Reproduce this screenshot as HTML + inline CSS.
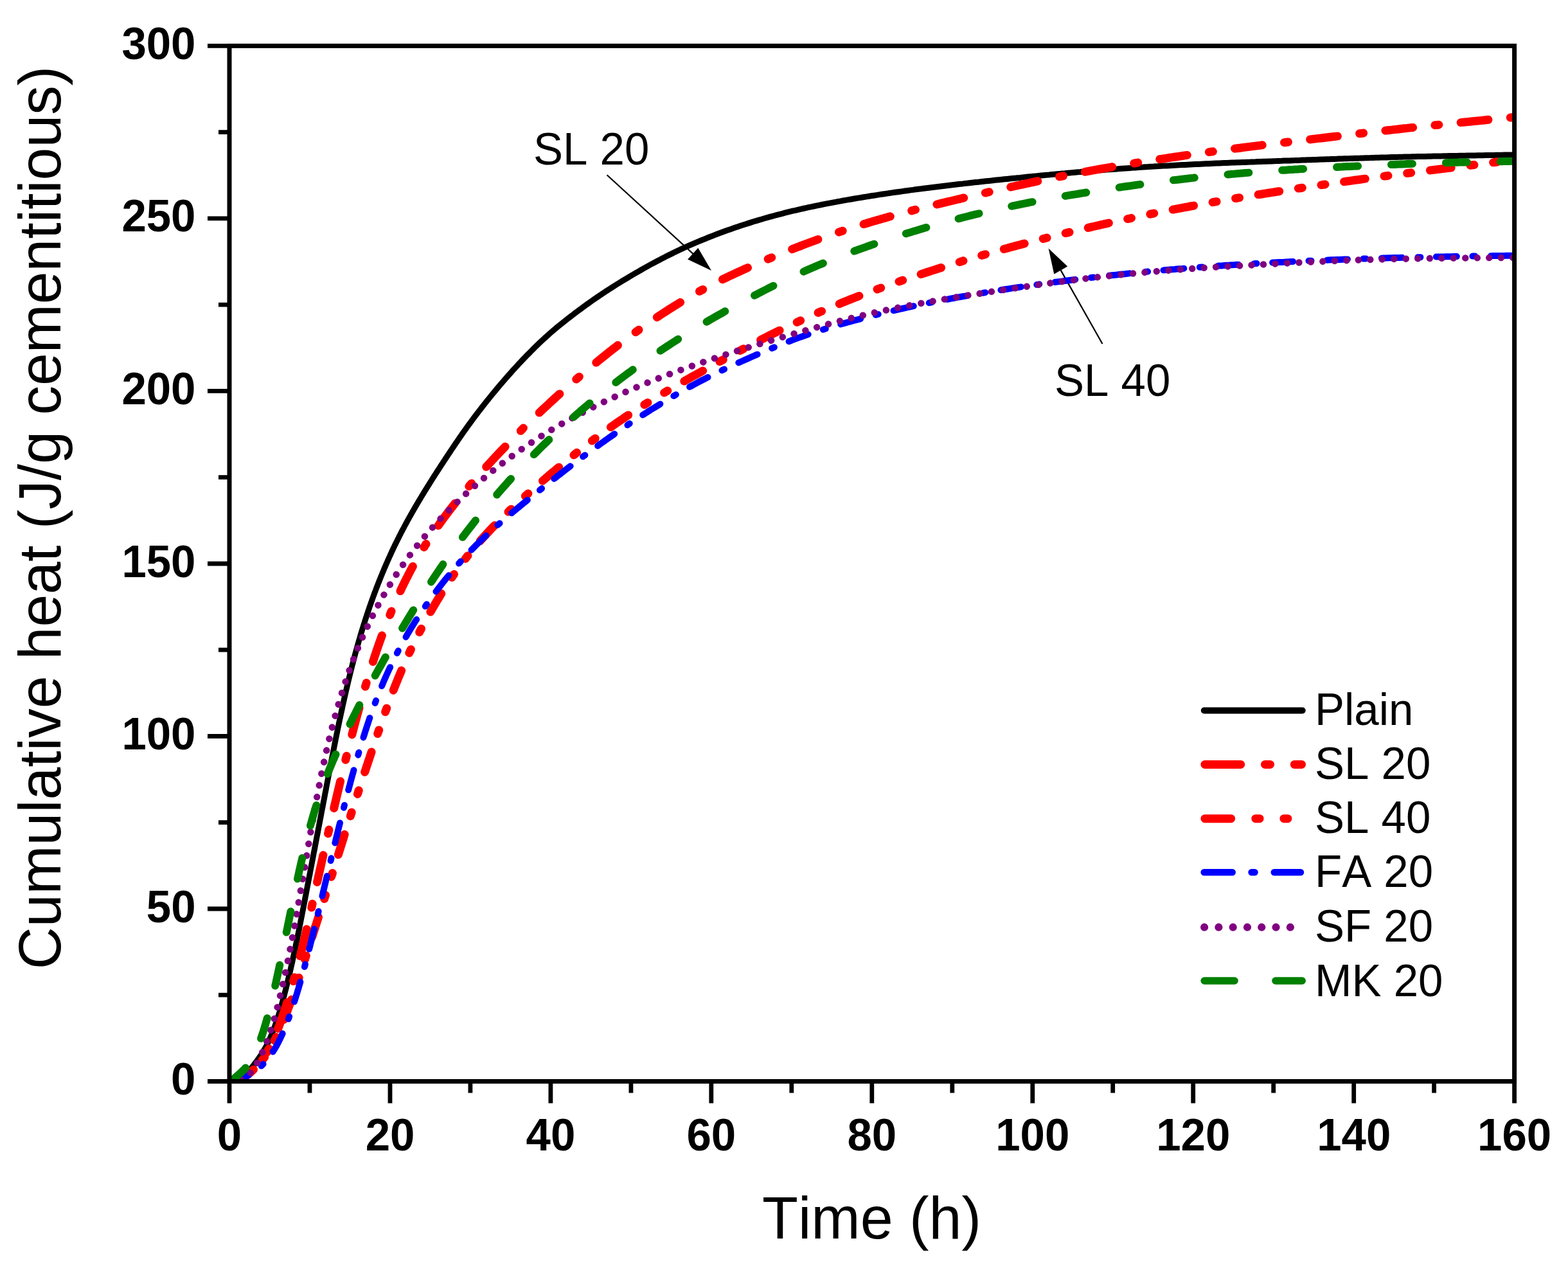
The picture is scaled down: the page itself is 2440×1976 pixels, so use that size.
<!DOCTYPE html><html><head><meta charset="utf-8"><style>html,body{margin:0;padding:0;background:#fff;}svg{display:block;}text{font-kerning:none;}</style></head><body>
<svg width="2440" height="1976" viewBox="0 0 2440 1976">
<rect width="2440" height="1976" fill="#fff"/>
<path d="M944.5,272.2L1081.2,397.4" stroke="#000" stroke-width="2.2" fill="none"/><path d="M1107.0,421.0L1070.1,403.5L1086.3,385.8Z" fill="#000"/>
<path d="M1715.5,535.0L1648.8,417.1" stroke="#000" stroke-width="2.2" fill="none"/><path d="M1631.6,386.6L1661.2,414.6L1640.3,426.5Z" fill="#000"/>
<defs><clipPath id="pc"><rect x="357.0" y="71.4" width="1999.6" height="1611.1"/></clipPath></defs>
<g fill="none" stroke-linecap="round" stroke-linejoin="round" clip-path="url(#pc)">
<path d="M357.0,1682.5L358.2,1682.4L359.5,1682.3L360.7,1682.1L362.0,1681.9L363.2,1681.7L364.5,1681.4L365.7,1681.1L367.0,1680.8L368.2,1680.4L369.5,1679.9L370.7,1679.4L372.0,1678.9L373.2,1678.2L374.5,1677.5L375.7,1676.8L377.0,1675.9L378.2,1675.0L379.5,1674.0L380.7,1673.0L382.0,1671.8L383.2,1670.6L384.5,1669.4L385.7,1668.1L387.0,1666.7L388.2,1665.3L389.5,1663.8L390.7,1662.3L392.0,1660.8L393.2,1659.2L394.5,1657.6L395.7,1656.0L397.0,1654.3L398.2,1652.7L399.5,1651.0L400.7,1649.3L402.0,1647.6L403.2,1645.8L404.5,1644.0L405.7,1642.2L407.0,1640.3L408.2,1638.3L409.5,1636.2L410.7,1634.1L412.0,1631.9L413.2,1629.7L414.5,1627.3L415.7,1624.9L417.0,1622.4L418.2,1619.8L419.5,1617.0L420.7,1614.2L422.0,1611.3L423.2,1608.3L424.5,1605.2L425.7,1601.9L427.0,1598.6L428.2,1595.1L429.5,1591.6L430.7,1587.9L432.0,1584.1L433.2,1580.2L434.5,1576.1L435.7,1572.0L437.0,1567.7L438.2,1563.4L439.5,1558.9L440.7,1554.3L442.0,1549.7L443.2,1544.9L444.5,1540.0L445.7,1535.1L447.0,1530.0L448.2,1524.9L449.5,1519.7L450.7,1514.4L452.0,1509.0L453.2,1503.5L454.5,1498.0L455.7,1492.3L457.0,1486.6L458.2,1480.8L459.5,1474.9L460.7,1469.0L462.0,1462.9L463.2,1456.8L464.5,1450.6L465.7,1444.4L467.0,1438.1L468.2,1431.8L469.5,1425.4L470.7,1419.0L472.0,1412.6L473.2,1406.1L474.5,1399.6L475.7,1393.1L477.0,1386.5L478.2,1380.0L479.5,1373.4L480.7,1366.9L482.0,1360.3L483.2,1353.7L484.5,1347.2L485.7,1340.6L487.0,1334.1L488.2,1327.5L489.5,1321.0L490.7,1314.4L492.0,1307.9L493.2,1301.3L494.5,1294.8L495.7,1288.2L497.0,1281.7L498.2,1275.1L499.5,1268.6L500.7,1262.0L502.0,1255.5L503.2,1248.9L504.5,1242.4L505.7,1235.8L507.0,1229.3L508.2,1222.7L509.5,1216.2L510.7,1209.7L512.0,1203.2L513.2,1196.7L514.5,1190.2L515.7,1183.8L517.0,1177.4L518.2,1171.0L519.5,1164.7L520.7,1158.3L522.0,1152.1L523.2,1145.9L524.5,1139.7L525.7,1133.6L527.0,1127.5L528.2,1121.6L529.5,1115.6L530.7,1109.8L532.0,1104.0L533.2,1098.2L534.5,1092.6L535.7,1087.0L537.0,1081.4L538.2,1076.0L539.5,1070.6L540.7,1065.2L542.0,1060.0L543.2,1054.8L544.5,1049.7L545.7,1044.7L547.0,1039.7L548.2,1034.8L549.5,1030.0L550.7,1025.2L552.0,1020.5L553.2,1015.9L554.5,1011.3L555.7,1006.8L557.0,1002.4L558.2,998.0L559.5,993.7L560.7,989.4L562.0,985.2L563.2,981.1L564.5,977.0L565.7,973.0L567.0,969.1L568.2,965.1L569.5,961.3L570.7,957.5L572.0,953.7L573.2,950.0L574.5,946.3L575.7,942.7L577.0,939.1L578.2,935.6L579.5,932.1L580.7,928.6L582.0,925.2L583.2,921.9L584.5,918.5L585.7,915.2L587.0,912.0L588.2,908.7L589.5,905.6L590.7,902.4L592.0,899.3L593.2,896.2L594.5,893.2L595.7,890.2L597.0,887.2L598.2,884.2L599.5,881.3L600.7,878.4L602.0,875.5L603.2,872.7L604.5,869.9L605.7,867.1L607.0,864.4L608.2,861.7L609.4,859.0L610.7,856.3L611.9,853.6L613.2,851.0L614.4,848.4L615.7,845.9L616.9,843.3L618.2,840.8L619.4,838.3L620.7,835.8L621.9,833.3L623.2,830.9L624.4,828.4L625.7,826.0L626.9,823.7L628.2,821.3L629.4,818.9L630.7,816.6L631.9,814.3L633.2,812.0L634.4,809.7L635.7,807.5L636.9,805.2L638.2,803.0L639.4,800.8L640.7,798.6L641.9,796.4L643.2,794.2L644.4,792.0L645.7,789.9L646.9,787.7L648.2,785.6L649.4,783.5L650.7,781.4L651.9,779.2L653.2,777.2L654.4,775.1L655.7,773.0L656.9,770.9L658.2,768.9L659.4,766.8L660.7,764.8L661.9,762.7L663.2,760.7L664.4,758.7L665.7,756.7L666.9,754.7L668.2,752.7L669.4,750.7L670.7,748.7L671.9,746.7L673.2,744.8L674.4,742.8L675.7,740.8L676.9,738.9L678.2,736.9L679.4,735.0L680.7,733.0L681.9,731.1L683.2,729.2L684.4,727.3L685.7,725.3L686.9,723.4L688.2,721.5L689.4,719.6L690.7,717.7L691.9,715.8L693.2,713.9L694.4,712.0L695.7,710.1L696.9,708.2L698.2,706.4L699.4,704.5L700.7,702.6L701.9,700.7L703.2,698.8L704.4,697.0L705.7,695.1L706.9,693.3L708.2,691.4L709.4,689.5L710.7,687.7L711.9,685.9L713.2,684.0L714.4,682.2L715.7,680.4L716.9,678.6L718.2,676.8L719.4,675.0L720.7,673.2L721.9,671.5L723.2,669.7L724.4,667.9L725.7,666.2L726.9,664.5L728.2,662.7L729.4,661.0L730.7,659.3L731.9,657.6L733.2,655.9L737.2,650.4L741.3,645.0L745.4,639.6L749.4,634.4L753.5,629.2L757.6,624.0L761.7,619.0L765.7,614.0L769.8,609.1L773.9,604.2L777.9,599.4L782.0,594.6L786.1,589.9L790.1,585.3L794.2,580.7L798.3,576.1L802.3,571.7L806.4,567.2L810.5,562.9L814.5,558.6L818.6,554.3L822.7,550.2L826.8,546.1L830.8,542.0L834.9,538.0L839.0,534.1L843.0,530.3L847.1,526.5L851.2,522.9L855.2,519.2L859.3,515.7L863.4,512.2L867.4,508.8L871.5,505.5L875.6,502.2L879.6,499.0L883.7,495.8L887.8,492.6L891.9,489.5L895.9,486.4L900.0,483.4L904.1,480.4L908.1,477.4L912.2,474.4L916.3,471.5L920.3,468.6L924.4,465.8L928.5,463.0L932.5,460.2L936.6,457.5L940.7,454.8L944.7,452.1L948.8,449.5L952.9,446.9L957.0,444.3L961.0,441.8L965.1,439.2L969.2,436.7L973.2,434.3L977.3,431.8L981.4,429.4L985.4,427.0L989.5,424.6L993.6,422.3L997.6,420.0L1001.7,417.7L1005.8,415.4L1009.8,413.1L1013.9,410.9L1018.0,408.7L1022.1,406.5L1026.1,404.4L1030.2,402.3L1034.3,400.2L1038.3,398.1L1042.4,396.1L1046.5,394.1L1050.5,392.1L1054.6,390.2L1058.7,388.2L1062.7,386.4L1066.8,384.5L1070.9,382.7L1074.9,380.9L1079.0,379.1L1083.1,377.4L1087.2,375.7L1091.2,374.0L1095.3,372.3L1099.4,370.7L1103.4,369.0L1107.5,367.5L1111.6,365.9L1115.6,364.3L1119.7,362.8L1123.8,361.3L1127.8,359.8L1131.9,358.3L1136.0,356.9L1140.0,355.5L1144.1,354.1L1148.2,352.7L1152.3,351.3L1156.3,350.0L1160.4,348.7L1164.5,347.4L1168.5,346.1L1172.6,344.8L1176.7,343.6L1180.7,342.4L1184.8,341.2L1188.9,340.0L1192.9,338.8L1197.0,337.7L1201.1,336.6L1205.1,335.5L1209.2,334.4L1213.3,333.3L1217.4,332.3L1221.4,331.2L1225.5,330.2L1229.6,329.2L1233.6,328.2L1237.7,327.3L1241.8,326.3L1245.8,325.4L1249.9,324.5L1254.0,323.6L1258.0,322.7L1262.1,321.8L1266.2,321.0L1270.2,320.1L1274.3,319.3L1278.4,318.5L1282.5,317.7L1286.5,316.9L1290.6,316.1L1294.7,315.3L1298.7,314.6L1302.8,313.8L1306.9,313.1L1310.9,312.3L1315.0,311.6L1319.1,310.9L1323.1,310.2L1327.2,309.5L1331.3,308.8L1335.3,308.1L1339.4,307.5L1343.5,306.8L1347.6,306.1L1351.6,305.5L1355.7,304.8L1359.8,304.2L1363.8,303.6L1367.9,302.9L1372.0,302.3L1376.0,301.7L1380.1,301.1L1384.2,300.5L1388.2,299.9L1392.3,299.3L1396.4,298.7L1400.4,298.2L1404.5,297.6L1408.6,297.0L1412.7,296.5L1416.7,295.9L1420.8,295.4L1424.9,294.8L1428.9,294.3L1433.0,293.8L1437.1,293.2L1441.1,292.7L1445.2,292.2L1449.3,291.7L1453.3,291.2L1457.4,290.7L1461.5,290.2L1465.5,289.7L1469.6,289.2L1473.7,288.7L1477.8,288.2L1481.8,287.7L1485.9,287.3L1490.0,286.8L1494.0,286.3L1498.1,285.9L1502.2,285.4L1506.2,285.0L1510.3,284.5L1514.4,284.0L1518.4,283.6L1522.5,283.2L1526.6,282.7L1530.6,282.3L1534.7,281.8L1538.8,281.4L1542.9,281.0L1546.9,280.5L1551.0,280.1L1555.1,279.7L1559.1,279.3L1563.2,278.8L1567.3,278.4L1571.3,278.0L1575.4,277.6L1579.5,277.2L1583.5,276.8L1587.6,276.4L1591.7,275.9L1595.7,275.5L1599.8,275.1L1603.9,274.7L1608.0,274.3L1612.0,273.9L1616.1,273.5L1620.2,273.1L1624.2,272.7L1628.3,272.3L1632.4,272.0L1636.4,271.6L1640.5,271.2L1644.6,270.8L1648.6,270.4L1652.7,270.0L1656.8,269.7L1660.8,269.3L1664.9,268.9L1669.0,268.6L1673.1,268.2L1677.1,267.8L1681.2,267.5L1685.3,267.1L1689.3,266.8L1693.4,266.4L1697.5,266.1L1701.5,265.8L1705.6,265.4L1709.7,265.1L1713.7,264.8L1717.8,264.4L1721.9,264.1L1725.9,263.8L1730.0,263.5L1734.1,263.2L1738.2,262.9L1742.2,262.6L1746.3,262.3L1750.4,262.0L1754.4,261.7L1758.5,261.4L1762.6,261.1L1766.6,260.9L1770.7,260.6L1774.8,260.3L1778.8,260.1L1782.9,259.8L1787.0,259.6L1791.0,259.3L1795.1,259.1L1799.2,258.8L1803.3,258.6L1807.3,258.3L1811.4,258.1L1815.5,257.9L1819.5,257.7L1823.6,257.4L1827.7,257.2L1831.7,257.0L1835.8,256.8L1839.9,256.6L1843.9,256.4L1848.0,256.2L1852.1,256.0L1856.1,255.8L1860.2,255.6L1864.3,255.4L1868.4,255.2L1872.4,255.0L1876.5,254.8L1880.6,254.7L1884.6,254.5L1888.7,254.3L1892.8,254.1L1896.8,254.0L1900.9,253.8L1905.0,253.6L1909.0,253.5L1913.1,253.3L1917.2,253.1L1921.2,253.0L1925.3,252.8L1929.4,252.7L1933.5,252.5L1937.5,252.4L1941.6,252.2L1945.7,252.1L1949.7,251.9L1953.8,251.8L1957.9,251.6L1961.9,251.5L1966.0,251.3L1970.1,251.2L1974.1,251.0L1978.2,250.9L1982.3,250.7L1986.3,250.6L1990.4,250.4L1994.5,250.3L1998.6,250.1L2002.6,250.0L2006.7,249.9L2010.8,249.7L2014.8,249.6L2018.9,249.4L2023.0,249.3L2027.0,249.1L2031.1,249.0L2035.2,248.8L2039.2,248.7L2043.3,248.5L2047.4,248.4L2051.4,248.2L2055.5,248.1L2059.6,248.0L2063.7,247.8L2067.7,247.7L2071.8,247.5L2075.9,247.4L2079.9,247.3L2084.0,247.1L2088.1,247.0L2092.1,246.8L2096.2,246.7L2100.3,246.6L2104.3,246.4L2108.4,246.3L2112.5,246.2L2116.5,246.1L2120.6,245.9L2124.7,245.8L2128.8,245.7L2132.8,245.6L2136.9,245.4L2141.0,245.3L2145.0,245.2L2149.1,245.1L2153.2,245.0L2157.2,244.9L2161.3,244.7L2165.4,244.6L2169.4,244.5L2173.5,244.4L2177.6,244.3L2181.6,244.2L2185.7,244.1L2189.8,244.0L2193.9,243.9L2197.9,243.8L2202.0,243.7L2206.1,243.6L2210.1,243.5L2214.2,243.5L2218.3,243.4L2222.3,243.3L2226.4,243.2L2230.5,243.1L2234.5,243.0L2238.6,242.9L2242.7,242.9L2246.7,242.8L2250.8,242.7L2254.9,242.6L2259.0,242.6L2263.0,242.5L2267.1,242.4L2271.2,242.3L2275.2,242.3L2279.3,242.2L2283.4,242.1L2287.4,242.0L2291.5,242.0L2295.6,241.9L2299.6,241.8L2303.7,241.8L2307.8,241.7L2311.8,241.6L2315.9,241.6L2320.0,241.5L2324.1,241.4L2328.1,241.3L2332.2,241.3L2336.3,241.2L2340.3,241.1L2344.4,241.1L2348.5,241.0L2352.5,241.0L2356.6,240.9" stroke="#000" stroke-width="9"/>
<path d="M357.0,1682.5L358.2,1682.5L359.5,1682.5L360.7,1682.5L362.0,1682.5L363.2,1682.5L364.5,1682.3L365.7,1682.0L367.0,1681.6L368.2,1681.2L369.5,1680.8L370.7,1680.3L372.0,1679.8L373.2,1679.3L374.5,1678.7L375.7,1678.1L377.0,1677.5L378.2,1676.8L379.5,1676.0L380.7,1675.3L382.0,1674.4L383.2,1673.6L384.5,1672.7L385.7,1671.8L387.0,1670.8L388.2,1669.8L389.5,1668.7L390.7,1667.6L392.0,1666.5L393.2,1665.3L394.5,1664.1L395.7,1662.9L397.0,1661.6L398.2,1660.3L399.5,1658.9L400.7,1657.5L402.0,1656.1L403.2,1654.6L404.5,1653.1L405.7,1651.6L407.0,1649.9L408.2,1648.3L409.5,1646.5L410.7,1644.7L412.0,1642.9L413.2,1640.9L414.5,1638.9L415.7,1636.8L417.0,1634.6L418.2,1632.4L419.5,1630.0L420.7,1627.6L422.0,1625.1L423.2,1622.5L424.5,1619.9L425.7,1617.1L427.0,1614.3L428.2,1611.4L429.5,1608.5L430.7,1605.4L432.0,1602.3L433.2,1599.1L434.5,1595.8L435.7,1592.5L437.0,1589.0L438.2,1585.5L439.5,1581.9L440.7,1578.3L442.0,1574.5L443.2,1570.7L444.5,1566.9L445.7,1562.9L447.0,1558.9L448.2,1554.9L449.5,1550.8L450.7,1546.7L452.0,1542.5L453.2,1538.2L454.5,1533.9L455.7,1529.6L457.0,1525.2L458.2,1520.7L459.5,1516.2L460.7,1511.6L462.0,1507.0L463.2,1502.3L464.5,1497.6L465.7,1492.7L467.0,1487.9L468.2,1483.0L469.5,1478.0L470.7,1472.9L472.0,1467.8L473.2,1462.6L474.5,1457.4L475.7,1452.1L477.0,1446.7L478.2,1441.3L479.5,1435.9L480.7,1430.4L482.0,1424.8L483.2,1419.3L484.5,1413.7L485.7,1408.1L487.0,1402.4L488.2,1396.8L489.5,1391.2L490.7,1385.5L492.0,1379.9L493.2,1374.2L494.5,1368.6L495.7,1362.9L497.0,1357.3L498.2,1351.7L499.5,1346.1L500.7,1340.5L502.0,1334.9L503.2,1329.3L504.5,1323.8L505.7,1318.2L507.0,1312.7L508.2,1307.2L509.5,1301.7L510.7,1296.3L512.0,1290.8L513.2,1285.4L514.5,1279.9L515.7,1274.5L517.0,1269.1L518.2,1263.7L519.5,1258.4L520.7,1253.0L522.0,1247.7L523.2,1242.4L524.5,1237.1L525.7,1231.8L527.0,1226.6L528.2,1221.4L529.5,1216.2L530.7,1211.0L532.0,1205.8L533.2,1200.7L534.5,1195.6L535.7,1190.5L537.0,1185.5L538.2,1180.5L539.5,1175.5L540.7,1170.5L542.0,1165.6L543.2,1160.6L544.5,1155.8L545.7,1150.9L547.0,1146.1L548.2,1141.3L549.5,1136.5L550.7,1131.8L552.0,1127.1L553.2,1122.4L554.5,1117.8L555.7,1113.2L557.0,1108.6L558.2,1104.0L559.5,1099.5L560.7,1095.1L562.0,1090.6L563.2,1086.2L564.5,1081.9L565.7,1077.5L567.0,1073.3L568.2,1069.0L569.5,1064.8L570.7,1060.6L572.0,1056.5L573.2,1052.3L574.5,1048.3L575.7,1044.2L577.0,1040.3L578.2,1036.3L579.5,1032.4L580.7,1028.5L582.0,1024.7L583.2,1020.9L584.5,1017.1L585.7,1013.4L587.0,1009.7L588.2,1006.1L589.5,1002.5L590.7,998.9L592.0,995.4L593.2,992.0L594.5,988.5L595.7,985.1L597.0,981.8L598.2,978.4L599.5,975.2L600.7,971.9L602.0,968.7L603.2,965.5L604.5,962.4L605.7,959.3L607.0,956.2L608.2,953.2L609.4,950.2L610.7,947.2L611.9,944.3L613.2,941.4L614.4,938.5L615.7,935.6L616.9,932.8L618.2,930.0L619.4,927.3L620.7,924.5L621.9,921.8L623.2,919.2L624.4,916.5L625.7,913.9L626.9,911.3L628.2,908.7L629.4,906.2L630.7,903.7L631.9,901.2L633.2,898.7L634.4,896.3L635.7,893.9L636.9,891.5L638.2,889.1L639.4,886.7L640.7,884.4L641.9,882.1L643.2,879.8L644.4,877.6L645.7,875.3L646.9,873.1L648.2,870.9L649.4,868.7L650.7,866.6L651.9,864.4L653.2,862.3L654.4,860.2L655.7,858.1L656.9,856.1L658.2,854.0L659.4,852.0L660.7,850.0L661.9,848.0L663.2,846.0L664.4,844.0L665.7,842.1L666.9,840.1L668.2,838.2L669.4,836.3L670.7,834.4L671.9,832.5L673.2,830.6L674.4,828.8L675.7,827.0L676.9,825.1L678.2,823.3L679.4,821.5L680.7,819.7L681.9,818.0L683.2,816.2L684.4,814.4L685.7,812.7L686.9,811.0L688.2,809.2L689.4,807.5L690.7,805.8L691.9,804.1L693.2,802.5L694.4,800.8L695.7,799.1L696.9,797.5L698.2,795.8L699.4,794.2L700.7,792.6L701.9,791.0L703.2,789.4L704.4,787.7L705.7,786.2L706.9,784.6L708.2,783.0L709.4,781.4L710.7,779.8L711.9,778.3L713.2,776.7L714.4,775.2L715.7,773.7L716.9,772.1L718.2,770.6L719.4,769.1L720.7,767.6L721.9,766.1L723.2,764.6L724.4,763.1L725.7,761.6L726.9,760.1L728.2,758.6L729.4,757.1L730.7,755.7L731.9,754.2L733.2,752.8L737.2,748.1L741.3,743.4L745.4,738.8L749.4,734.3L753.5,729.8L757.6,725.3L761.7,720.9L765.7,716.5L769.8,712.1L773.9,707.8L777.9,703.5L782.0,699.2L786.1,695.0L790.1,690.7L794.2,686.6L798.3,682.4L802.3,678.3L806.4,674.2L810.5,670.1L814.5,666.0L818.6,662.0L822.7,658.0L826.8,654.1L830.8,650.1L834.9,646.2L839.0,642.4L843.0,638.5L847.1,634.7L851.2,630.9L855.2,627.1L859.3,623.4L863.4,619.7L867.4,616.0L871.5,612.3L875.6,608.7L879.6,605.1L883.7,601.5L887.8,597.9L891.9,594.4L895.9,590.8L900.0,587.3L904.1,583.9L908.1,580.4L912.2,577.0L916.3,573.6L920.3,570.2L924.4,566.8L928.5,563.5L932.5,560.2L936.6,556.9L940.7,553.6L944.7,550.4L948.8,547.1L952.9,543.9L957.0,540.8L961.0,537.6L965.1,534.5L969.2,531.4L973.2,528.4L977.3,525.3L981.4,522.3L985.4,519.4L989.5,516.4L993.6,513.5L997.6,510.6L1001.7,507.7L1005.8,504.9L1009.8,502.1L1013.9,499.3L1018.0,496.5L1022.1,493.8L1026.1,491.1L1030.2,488.4L1034.3,485.8L1038.3,483.2L1042.4,480.6L1046.5,478.0L1050.5,475.5L1054.6,473.0L1058.7,470.5L1062.7,468.1L1066.8,465.7L1070.9,463.3L1074.9,460.9L1079.0,458.6L1083.1,456.3L1087.2,454.0L1091.2,451.8L1095.3,449.6L1099.4,447.4L1103.4,445.3L1107.5,443.2L1111.6,441.1L1115.6,439.0L1119.7,437.0L1123.8,435.0L1127.8,433.1L1131.9,431.1L1136.0,429.2L1140.0,427.3L1144.1,425.4L1148.2,423.5L1152.3,421.7L1156.3,419.8L1160.4,418.0L1164.5,416.2L1168.5,414.4L1172.6,412.6L1176.7,410.8L1180.7,409.1L1184.8,407.3L1188.9,405.6L1192.9,403.9L1197.0,402.2L1201.1,400.5L1205.1,398.8L1209.2,397.1L1213.3,395.5L1217.4,393.8L1221.4,392.2L1225.5,390.5L1229.6,388.9L1233.6,387.3L1237.7,385.7L1241.8,384.2L1245.8,382.6L1249.9,381.0L1254.0,379.5L1258.0,378.0L1262.1,376.5L1266.2,375.0L1270.2,373.5L1274.3,372.0L1278.4,370.5L1282.5,369.1L1286.5,367.7L1290.6,366.2L1294.7,364.8L1298.7,363.4L1302.8,362.1L1306.9,360.7L1310.9,359.3L1315.0,358.0L1319.1,356.7L1323.1,355.4L1327.2,354.1L1331.3,352.8L1335.3,351.5L1339.4,350.3L1343.5,349.0L1347.6,347.8L1351.6,346.5L1355.7,345.3L1359.8,344.1L1363.8,342.9L1367.9,341.8L1372.0,340.6L1376.0,339.4L1380.1,338.3L1384.2,337.1L1388.2,336.0L1392.3,334.9L1396.4,333.8L1400.4,332.7L1404.5,331.6L1408.6,330.5L1412.7,329.4L1416.7,328.4L1420.8,327.3L1424.9,326.2L1428.9,325.2L1433.0,324.2L1437.1,323.1L1441.1,322.1L1445.2,321.1L1449.3,320.1L1453.3,319.1L1457.4,318.1L1461.5,317.1L1465.5,316.1L1469.6,315.1L1473.7,314.1L1477.8,313.2L1481.8,312.2L1485.9,311.2L1490.0,310.2L1494.0,309.3L1498.1,308.3L1502.2,307.4L1506.2,306.4L1510.3,305.4L1514.4,304.5L1518.4,303.5L1522.5,302.6L1526.6,301.6L1530.6,300.7L1534.7,299.8L1538.8,298.8L1542.9,297.9L1546.9,296.9L1551.0,296.0L1555.1,295.1L1559.1,294.1L1563.2,293.2L1567.3,292.3L1571.3,291.4L1575.4,290.4L1579.5,289.5L1583.5,288.6L1587.6,287.7L1591.7,286.8L1595.7,285.9L1599.8,285.1L1603.9,284.2L1608.0,283.3L1612.0,282.4L1616.1,281.6L1620.2,280.7L1624.2,279.9L1628.3,279.0L1632.4,278.2L1636.4,277.3L1640.5,276.5L1644.6,275.7L1648.6,274.9L1652.7,274.1L1656.8,273.3L1660.8,272.5L1664.9,271.7L1669.0,270.9L1673.1,270.2L1677.1,269.4L1681.2,268.6L1685.3,267.9L1689.3,267.1L1693.4,266.4L1697.5,265.6L1701.5,264.9L1705.6,264.2L1709.7,263.4L1713.7,262.7L1717.8,262.0L1721.9,261.3L1725.9,260.6L1730.0,259.9L1734.1,259.2L1738.2,258.5L1742.2,257.8L1746.3,257.1L1750.4,256.4L1754.4,255.8L1758.5,255.1L1762.6,254.4L1766.6,253.8L1770.7,253.1L1774.8,252.5L1778.8,251.8L1782.9,251.2L1787.0,250.5L1791.0,249.9L1795.1,249.3L1799.2,248.6L1803.3,248.0L1807.3,247.4L1811.4,246.8L1815.5,246.1L1819.5,245.5L1823.6,244.9L1827.7,244.3L1831.7,243.7L1835.8,243.1L1839.9,242.5L1843.9,241.9L1848.0,241.3L1852.1,240.7L1856.1,240.2L1860.2,239.6L1864.3,239.0L1868.4,238.4L1872.4,237.8L1876.5,237.3L1880.6,236.7L1884.6,236.1L1888.7,235.6L1892.8,235.0L1896.8,234.5L1900.9,233.9L1905.0,233.4L1909.0,232.8L1913.1,232.3L1917.2,231.8L1921.2,231.2L1925.3,230.7L1929.4,230.2L1933.5,229.6L1937.5,229.1L1941.6,228.6L1945.7,228.1L1949.7,227.6L1953.8,227.1L1957.9,226.6L1961.9,226.1L1966.0,225.6L1970.1,225.1L1974.1,224.6L1978.2,224.1L1982.3,223.6L1986.3,223.1L1990.4,222.7L1994.5,222.2L1998.6,221.7L2002.6,221.2L2006.7,220.7L2010.8,220.3L2014.8,219.8L2018.9,219.3L2023.0,218.8L2027.0,218.3L2031.1,217.9L2035.2,217.4L2039.2,216.9L2043.3,216.4L2047.4,215.9L2051.4,215.4L2055.5,215.0L2059.6,214.5L2063.7,214.0L2067.7,213.5L2071.8,213.0L2075.9,212.5L2079.9,212.1L2084.0,211.6L2088.1,211.1L2092.1,210.6L2096.2,210.1L2100.3,209.6L2104.3,209.2L2108.4,208.7L2112.5,208.2L2116.5,207.7L2120.6,207.2L2124.7,206.8L2128.8,206.3L2132.8,205.8L2136.9,205.3L2141.0,204.9L2145.0,204.4L2149.1,203.9L2153.2,203.5L2157.2,203.0L2161.3,202.5L2165.4,202.1L2169.4,201.6L2173.5,201.2L2177.6,200.7L2181.6,200.3L2185.7,199.8L2189.8,199.4L2193.9,198.9L2197.9,198.5L2202.0,198.1L2206.1,197.6L2210.1,197.2L2214.2,196.8L2218.3,196.3L2222.3,195.9L2226.4,195.5L2230.5,195.0L2234.5,194.6L2238.6,194.2L2242.7,193.8L2246.7,193.3L2250.8,192.9L2254.9,192.5L2259.0,192.1L2263.0,191.7L2267.1,191.2L2271.2,190.8L2275.2,190.4L2279.3,190.0L2283.4,189.6L2287.4,189.2L2291.5,188.8L2295.6,188.4L2299.6,188.0L2303.7,187.6L2307.8,187.2L2311.8,186.7L2315.9,186.3L2320.0,185.9L2324.1,185.5L2328.1,185.1L2332.2,184.7L2336.3,184.3L2340.3,183.9L2344.4,183.5L2348.5,183.1L2352.5,182.7L2356.6,182.3" stroke="#f00" stroke-width="13" stroke-dasharray="43 34.5 6 34.5"/>
<path d="M357.0,1682.5L358.2,1682.5L359.5,1682.5L360.7,1682.5L362.0,1682.5L363.2,1682.5L364.5,1682.3L365.7,1681.9L367.0,1681.6L368.2,1681.2L369.5,1680.7L370.7,1680.3L372.0,1679.7L373.2,1679.2L374.5,1678.6L375.7,1678.0L377.0,1677.3L378.2,1676.6L379.5,1675.9L380.7,1675.1L382.0,1674.3L383.2,1673.5L384.5,1672.6L385.7,1671.7L387.0,1670.7L388.2,1669.7L389.5,1668.7L390.7,1667.6L392.0,1666.5L393.2,1665.4L394.5,1664.2L395.7,1663.1L397.0,1661.8L398.2,1660.6L399.5,1659.3L400.7,1658.0L402.0,1656.6L403.2,1655.3L404.5,1653.8L405.7,1652.4L407.0,1650.9L408.2,1649.3L409.5,1647.7L410.7,1646.1L412.0,1644.4L413.2,1642.6L414.5,1640.8L415.7,1638.9L417.0,1637.0L418.2,1635.0L419.5,1633.0L420.7,1630.8L422.0,1628.7L423.2,1626.4L424.5,1624.1L425.7,1621.8L427.0,1619.3L428.2,1616.9L429.5,1614.3L430.7,1611.7L432.0,1609.1L433.2,1606.4L434.5,1603.6L435.7,1600.8L437.0,1597.9L438.2,1595.0L439.5,1592.0L440.7,1589.0L442.0,1585.9L443.2,1582.8L444.5,1579.6L445.7,1576.4L447.0,1573.2L448.2,1569.9L449.5,1566.5L450.7,1563.1L452.0,1559.7L453.2,1556.2L454.5,1552.7L455.7,1549.2L457.0,1545.6L458.2,1542.0L459.5,1538.4L460.7,1534.7L462.0,1531.0L463.2,1527.3L464.5,1523.5L465.7,1519.7L467.0,1515.9L468.2,1512.1L469.5,1508.3L470.7,1504.4L472.0,1500.6L473.2,1496.7L474.5,1492.8L475.7,1488.9L477.0,1485.0L478.2,1481.1L479.5,1477.2L480.7,1473.3L482.0,1469.3L483.2,1465.4L484.5,1461.5L485.7,1457.6L487.0,1453.6L488.2,1449.7L489.5,1445.8L490.7,1441.9L492.0,1438.0L493.2,1434.1L494.5,1430.2L495.7,1426.3L497.0,1422.4L498.2,1418.5L499.5,1414.7L500.7,1410.8L502.0,1406.9L503.2,1403.0L504.5,1399.1L505.7,1395.2L507.0,1391.3L508.2,1387.4L509.5,1383.5L510.7,1379.6L512.0,1375.7L513.2,1371.7L514.5,1367.8L515.7,1363.8L517.0,1359.9L518.2,1355.9L519.5,1351.9L520.7,1347.9L522.0,1343.9L523.2,1339.9L524.5,1335.9L525.7,1331.9L527.0,1327.9L528.2,1323.9L529.5,1319.9L530.7,1315.9L532.0,1311.9L533.2,1308.0L534.5,1304.0L535.7,1300.0L537.0,1296.0L538.2,1292.1L539.5,1288.1L540.7,1284.2L542.0,1280.2L543.2,1276.3L544.5,1272.4L545.7,1268.5L547.0,1264.6L548.2,1260.7L549.5,1256.9L550.7,1253.0L552.0,1249.1L553.2,1245.3L554.5,1241.4L555.7,1237.6L557.0,1233.8L558.2,1230.0L559.5,1226.2L560.7,1222.4L562.0,1218.6L563.2,1214.8L564.5,1211.0L565.7,1207.2L567.0,1203.4L568.2,1199.6L569.5,1195.8L570.7,1192.1L572.0,1188.3L573.2,1184.5L574.5,1180.8L575.7,1177.0L577.0,1173.3L578.2,1169.6L579.5,1165.9L580.7,1162.1L582.0,1158.4L583.2,1154.8L584.5,1151.1L585.7,1147.4L587.0,1143.8L588.2,1140.1L589.5,1136.5L590.7,1132.9L592.0,1129.3L593.2,1125.7L594.5,1122.2L595.7,1118.6L597.0,1115.1L598.2,1111.6L599.5,1108.1L600.7,1104.7L602.0,1101.3L603.2,1097.8L604.5,1094.5L605.7,1091.1L607.0,1087.8L608.2,1084.5L609.4,1081.2L610.7,1077.9L611.9,1074.7L613.2,1071.5L614.4,1068.3L615.7,1065.1L616.9,1062.0L618.2,1058.9L619.4,1055.9L620.7,1052.8L621.9,1049.8L623.2,1046.8L624.4,1043.9L625.7,1041.0L626.9,1038.1L628.2,1035.2L629.4,1032.3L630.7,1029.5L631.9,1026.7L633.2,1024.0L634.4,1021.2L635.7,1018.5L636.9,1015.8L638.2,1013.1L639.4,1010.5L640.7,1007.8L641.9,1005.2L643.2,1002.7L644.4,1000.1L645.7,997.6L646.9,995.0L648.2,992.5L649.4,990.0L650.7,987.6L651.9,985.1L653.2,982.7L654.4,980.3L655.7,977.9L656.9,975.6L658.2,973.2L659.4,970.9L660.7,968.6L661.9,966.3L663.2,964.0L664.4,961.7L665.7,959.5L666.9,957.2L668.2,955.0L669.4,952.8L670.7,950.6L671.9,948.5L673.2,946.3L674.4,944.2L675.7,942.0L676.9,939.9L678.2,937.8L679.4,935.7L680.7,933.6L681.9,931.6L683.2,929.5L684.4,927.5L685.7,925.4L686.9,923.4L688.2,921.4L689.4,919.4L690.7,917.4L691.9,915.5L693.2,913.5L694.4,911.6L695.7,909.6L696.9,907.7L698.2,905.8L699.4,903.9L700.7,902.0L701.9,900.2L703.2,898.3L704.4,896.5L705.7,894.7L706.9,892.9L708.2,891.1L709.4,889.3L710.7,887.5L711.9,885.8L713.2,884.0L714.4,882.3L715.7,880.6L716.9,878.9L718.2,877.2L719.4,875.6L720.7,873.9L721.9,872.3L723.2,870.7L724.4,869.1L725.7,867.5L726.9,865.9L728.2,864.3L729.4,862.7L730.7,861.2L731.9,859.6L733.2,858.1L737.2,853.2L741.3,848.4L745.4,843.7L749.4,839.1L753.5,834.6L757.6,830.2L761.7,825.8L765.7,821.6L769.8,817.4L773.9,813.2L777.9,809.2L782.0,805.1L786.1,801.2L790.1,797.2L794.2,793.3L798.3,789.5L802.3,785.7L806.4,781.9L810.5,778.2L814.5,774.5L818.6,770.8L822.7,767.2L826.8,763.6L830.8,760.0L834.9,756.4L839.0,752.9L843.0,749.4L847.1,745.9L851.2,742.4L855.2,739.0L859.3,735.6L863.4,732.2L867.4,728.8L871.5,725.4L875.6,722.0L879.6,718.7L883.7,715.4L887.8,712.1L891.9,708.8L895.9,705.6L900.0,702.3L904.1,699.1L908.1,696.0L912.2,692.8L916.3,689.7L920.3,686.6L924.4,683.6L928.5,680.5L932.5,677.5L936.6,674.5L940.7,671.6L944.7,668.6L948.8,665.7L952.9,662.8L957.0,660.0L961.0,657.1L965.1,654.3L969.2,651.6L973.2,648.8L977.3,646.1L981.4,643.4L985.4,640.7L989.5,638.1L993.6,635.5L997.6,632.9L1001.7,630.3L1005.8,627.8L1009.8,625.3L1013.9,622.8L1018.0,620.3L1022.1,617.8L1026.1,615.4L1030.2,613.0L1034.3,610.6L1038.3,608.2L1042.4,605.8L1046.5,603.5L1050.5,601.2L1054.6,598.8L1058.7,596.5L1062.7,594.2L1066.8,591.9L1070.9,589.6L1074.9,587.3L1079.0,585.1L1083.1,582.8L1087.2,580.6L1091.2,578.3L1095.3,576.1L1099.4,573.8L1103.4,571.6L1107.5,569.4L1111.6,567.1L1115.6,564.9L1119.7,562.7L1123.8,560.5L1127.8,558.3L1131.9,556.1L1136.0,553.9L1140.0,551.7L1144.1,549.6L1148.2,547.4L1152.3,545.2L1156.3,543.1L1160.4,540.9L1164.5,538.8L1168.5,536.7L1172.6,534.6L1176.7,532.5L1180.7,530.4L1184.8,528.3L1188.9,526.2L1192.9,524.2L1197.0,522.1L1201.1,520.1L1205.1,518.1L1209.2,516.1L1213.3,514.1L1217.4,512.1L1221.4,510.1L1225.5,508.2L1229.6,506.3L1233.6,504.4L1237.7,502.5L1241.8,500.6L1245.8,498.7L1249.9,496.8L1254.0,495.0L1258.0,493.2L1262.1,491.4L1266.2,489.6L1270.2,487.8L1274.3,486.0L1278.4,484.3L1282.5,482.5L1286.5,480.8L1290.6,479.1L1294.7,477.4L1298.7,475.7L1302.8,474.1L1306.9,472.4L1310.9,470.7L1315.0,469.1L1319.1,467.5L1323.1,465.9L1327.2,464.3L1331.3,462.7L1335.3,461.1L1339.4,459.6L1343.5,458.0L1347.6,456.5L1351.6,455.0L1355.7,453.5L1359.8,452.0L1363.8,450.5L1367.9,449.0L1372.0,447.5L1376.0,446.1L1380.1,444.6L1384.2,443.2L1388.2,441.8L1392.3,440.4L1396.4,438.9L1400.4,437.6L1404.5,436.2L1408.6,434.8L1412.7,433.4L1416.7,432.0L1420.8,430.7L1424.9,429.3L1428.9,428.0L1433.0,426.7L1437.1,425.3L1441.1,424.0L1445.2,422.7L1449.3,421.4L1453.3,420.1L1457.4,418.8L1461.5,417.5L1465.5,416.2L1469.6,414.9L1473.7,413.6L1477.8,412.4L1481.8,411.1L1485.9,409.9L1490.0,408.6L1494.0,407.4L1498.1,406.1L1502.2,404.9L1506.2,403.7L1510.3,402.5L1514.4,401.2L1518.4,400.0L1522.5,398.8L1526.6,397.7L1530.6,396.5L1534.7,395.3L1538.8,394.1L1542.9,393.0L1546.9,391.8L1551.0,390.7L1555.1,389.5L1559.1,388.4L1563.2,387.3L1567.3,386.2L1571.3,385.1L1575.4,384.0L1579.5,382.9L1583.5,381.8L1587.6,380.7L1591.7,379.6L1595.7,378.6L1599.8,377.5L1603.9,376.4L1608.0,375.4L1612.0,374.3L1616.1,373.3L1620.2,372.2L1624.2,371.2L1628.3,370.2L1632.4,369.2L1636.4,368.1L1640.5,367.1L1644.6,366.1L1648.6,365.1L1652.7,364.1L1656.8,363.1L1660.8,362.1L1664.9,361.1L1669.0,360.2L1673.1,359.2L1677.1,358.2L1681.2,357.2L1685.3,356.3L1689.3,355.3L1693.4,354.4L1697.5,353.4L1701.5,352.5L1705.6,351.5L1709.7,350.6L1713.7,349.7L1717.8,348.7L1721.9,347.8L1725.9,346.9L1730.0,346.0L1734.1,345.1L1738.2,344.2L1742.2,343.3L1746.3,342.4L1750.4,341.5L1754.4,340.6L1758.5,339.8L1762.6,338.9L1766.6,338.0L1770.7,337.2L1774.8,336.3L1778.8,335.5L1782.9,334.6L1787.0,333.8L1791.0,332.9L1795.1,332.1L1799.2,331.3L1803.3,330.5L1807.3,329.7L1811.4,328.8L1815.5,328.0L1819.5,327.2L1823.6,326.4L1827.7,325.6L1831.7,324.9L1835.8,324.1L1839.9,323.3L1843.9,322.5L1848.0,321.8L1852.1,321.0L1856.1,320.3L1860.2,319.5L1864.3,318.8L1868.4,318.0L1872.4,317.3L1876.5,316.6L1880.6,315.8L1884.6,315.1L1888.7,314.4L1892.8,313.7L1896.8,313.0L1900.9,312.3L1905.0,311.6L1909.0,310.9L1913.1,310.2L1917.2,309.5L1921.2,308.8L1925.3,308.2L1929.4,307.5L1933.5,306.8L1937.5,306.1L1941.6,305.5L1945.7,304.8L1949.7,304.2L1953.8,303.5L1957.9,302.8L1961.9,302.2L1966.0,301.5L1970.1,300.9L1974.1,300.3L1978.2,299.6L1982.3,299.0L1986.3,298.3L1990.4,297.7L1994.5,297.1L1998.6,296.4L2002.6,295.8L2006.7,295.2L2010.8,294.6L2014.8,293.9L2018.9,293.3L2023.0,292.7L2027.0,292.1L2031.1,291.5L2035.2,290.9L2039.2,290.3L2043.3,289.7L2047.4,289.1L2051.4,288.5L2055.5,287.9L2059.6,287.3L2063.7,286.7L2067.7,286.1L2071.8,285.5L2075.9,284.9L2079.9,284.3L2084.0,283.8L2088.1,283.2L2092.1,282.6L2096.2,282.0L2100.3,281.5L2104.3,280.9L2108.4,280.3L2112.5,279.8L2116.5,279.2L2120.6,278.6L2124.7,278.1L2128.8,277.5L2132.8,277.0L2136.9,276.4L2141.0,275.9L2145.0,275.3L2149.1,274.8L2153.2,274.2L2157.2,273.7L2161.3,273.2L2165.4,272.6L2169.4,272.1L2173.5,271.6L2177.6,271.1L2181.6,270.5L2185.7,270.0L2189.8,269.5L2193.9,269.0L2197.9,268.5L2202.0,267.9L2206.1,267.4L2210.1,266.9L2214.2,266.4L2218.3,265.9L2222.3,265.4L2226.4,264.9L2230.5,264.4L2234.5,263.9L2238.6,263.4L2242.7,262.9L2246.7,262.4L2250.8,261.9L2254.9,261.4L2259.0,260.9L2263.0,260.4L2267.1,259.9L2271.2,259.4L2275.2,258.9L2279.3,258.4L2283.4,257.8L2287.4,257.3L2291.5,256.8L2295.6,256.3L2299.6,255.8L2303.7,255.3L2307.8,254.8L2311.8,254.3L2315.9,253.8L2320.0,253.3L2324.1,252.8L2328.1,252.3L2332.2,251.8L2336.3,251.3L2340.3,250.8L2344.4,250.3L2348.5,249.8L2352.5,249.3L2356.6,248.8" stroke="#f00" stroke-width="13" stroke-dasharray="33 30 6 30 6 30"/>
<path d="M357.0,1682.5L358.2,1682.5L359.5,1682.5L360.7,1682.5L362.0,1682.5L363.2,1682.5L364.5,1682.2L365.7,1681.9L367.0,1681.6L368.2,1681.2L369.5,1680.8L370.7,1680.4L372.0,1679.9L373.2,1679.4L374.5,1678.9L375.7,1678.4L377.0,1677.9L378.2,1677.3L379.5,1676.7L380.7,1676.1L382.0,1675.5L383.2,1674.8L384.5,1674.1L385.7,1673.5L387.0,1672.8L388.2,1672.0L389.5,1671.3L390.7,1670.5L392.0,1669.7L393.2,1668.9L394.5,1668.1L395.7,1667.3L397.0,1666.4L398.2,1665.5L399.5,1664.5L400.7,1663.6L402.0,1662.6L403.2,1661.5L404.5,1660.4L405.7,1659.3L407.0,1658.2L408.2,1657.0L409.5,1655.7L410.7,1654.4L412.0,1653.1L413.2,1651.7L414.5,1650.3L415.7,1648.8L417.0,1647.2L418.2,1645.7L419.5,1644.0L420.7,1642.3L422.0,1640.5L423.2,1638.7L424.5,1636.8L425.7,1634.8L427.0,1632.8L428.2,1630.7L429.5,1628.5L430.7,1626.3L432.0,1624.0L433.2,1621.6L434.5,1619.1L435.7,1616.6L437.0,1613.9L438.2,1611.3L439.5,1608.5L440.7,1605.6L442.0,1602.7L443.2,1599.7L444.5,1596.6L445.7,1593.5L447.0,1590.3L448.2,1587.0L449.5,1583.6L450.7,1580.1L452.0,1576.6L453.2,1573.0L454.5,1569.4L455.7,1565.6L457.0,1561.8L458.2,1558.0L459.5,1554.0L460.7,1550.0L462.0,1546.0L463.2,1541.9L464.5,1537.7L465.7,1533.4L467.0,1529.1L468.2,1524.8L469.5,1520.3L470.7,1515.9L472.0,1511.3L473.2,1506.8L474.5,1502.2L475.7,1497.5L477.0,1492.8L478.2,1488.0L479.5,1483.2L480.7,1478.4L482.0,1473.5L483.2,1468.6L484.5,1463.6L485.7,1458.7L487.0,1453.6L488.2,1448.6L489.5,1443.5L490.7,1438.4L492.0,1433.3L493.2,1428.1L494.5,1423.0L495.7,1417.8L497.0,1412.6L498.2,1407.4L499.5,1402.2L500.7,1397.0L502.0,1391.8L503.2,1386.6L504.5,1381.3L505.7,1376.1L507.0,1370.9L508.2,1365.7L509.5,1360.5L510.7,1355.3L512.0,1350.1L513.2,1344.9L514.5,1339.7L515.7,1334.5L517.0,1329.4L518.2,1324.2L519.5,1319.1L520.7,1314.0L522.0,1308.9L523.2,1303.8L524.5,1298.7L525.7,1293.6L527.0,1288.6L528.2,1283.6L529.5,1278.6L530.7,1273.6L532.0,1268.6L533.2,1263.7L534.5,1258.8L535.7,1253.9L537.0,1249.0L538.2,1244.2L539.5,1239.4L540.7,1234.6L542.0,1229.9L543.2,1225.1L544.5,1220.5L545.7,1215.8L547.0,1211.2L548.2,1206.6L549.5,1202.1L550.7,1197.6L552.0,1193.1L553.2,1188.7L554.5,1184.3L555.7,1180.0L557.0,1175.7L558.2,1171.4L559.5,1167.2L560.7,1163.0L562.0,1158.8L563.2,1154.7L564.5,1150.7L565.7,1146.6L567.0,1142.7L568.2,1138.7L569.5,1134.8L570.7,1131.0L572.0,1127.2L573.2,1123.4L574.5,1119.7L575.7,1116.1L577.0,1112.5L578.2,1108.9L579.5,1105.4L580.7,1101.9L582.0,1098.5L583.2,1095.1L584.5,1091.7L585.7,1088.4L587.0,1085.2L588.2,1082.0L589.5,1078.8L590.7,1075.7L592.0,1072.6L593.2,1069.5L594.5,1066.5L595.7,1063.6L597.0,1060.6L598.2,1057.7L599.5,1054.9L600.7,1052.0L602.0,1049.2L603.2,1046.5L604.5,1043.7L605.7,1041.0L607.0,1038.4L608.2,1035.7L609.4,1033.1L610.7,1030.5L611.9,1028.0L613.2,1025.5L614.4,1023.0L615.7,1020.5L616.9,1018.1L618.2,1015.6L619.4,1013.2L620.7,1010.9L621.9,1008.5L623.2,1006.2L624.4,1003.9L625.7,1001.6L626.9,999.4L628.2,997.1L629.4,994.9L630.7,992.7L631.9,990.5L633.2,988.4L634.4,986.2L635.7,984.1L636.9,982.0L638.2,979.9L639.4,977.8L640.7,975.8L641.9,973.7L643.2,971.7L644.4,969.7L645.7,967.7L646.9,965.7L648.2,963.8L649.4,961.9L650.7,959.9L651.9,958.0L653.2,956.1L654.4,954.2L655.7,952.4L656.9,950.5L658.2,948.7L659.4,946.8L660.7,945.0L661.9,943.2L663.2,941.4L664.4,939.6L665.7,937.9L666.9,936.1L668.2,934.4L669.4,932.6L670.7,930.9L671.9,929.2L673.2,927.5L674.4,925.8L675.7,924.1L676.9,922.4L678.2,920.8L679.4,919.1L680.7,917.5L681.9,915.8L683.2,914.2L684.4,912.6L685.7,911.0L686.9,909.4L688.2,907.8L689.4,906.2L690.7,904.6L691.9,903.1L693.2,901.5L694.4,900.0L695.7,898.4L696.9,896.9L698.2,895.4L699.4,893.8L700.7,892.3L701.9,890.8L703.2,889.3L704.4,887.9L705.7,886.4L706.9,884.9L708.2,883.5L709.4,882.0L710.7,880.6L711.9,879.1L713.2,877.7L714.4,876.3L715.7,874.9L716.9,873.5L718.2,872.1L719.4,870.7L720.7,869.3L721.9,868.0L723.2,866.6L724.4,865.3L725.7,863.9L726.9,862.6L728.2,861.3L729.4,859.9L730.7,858.6L731.9,857.3L733.2,856.0L737.2,851.9L741.3,847.8L745.4,843.8L749.4,839.8L753.5,836.0L757.6,832.1L761.7,828.4L765.7,824.7L769.8,821.0L773.9,817.4L777.9,813.9L782.0,810.3L786.1,806.8L790.1,803.4L794.2,799.9L798.3,796.5L802.3,793.2L806.4,789.8L810.5,786.4L814.5,783.1L818.6,779.8L822.7,776.5L826.8,773.2L830.8,769.9L834.9,766.6L839.0,763.3L843.0,760.1L847.1,756.8L851.2,753.6L855.2,750.4L859.3,747.2L863.4,744.0L867.4,740.8L871.5,737.7L875.6,734.5L879.6,731.4L883.7,728.3L887.8,725.2L891.9,722.1L895.9,719.0L900.0,715.9L904.1,712.9L908.1,709.8L912.2,706.8L916.3,703.8L920.3,700.8L924.4,697.8L928.5,694.9L932.5,691.9L936.6,689.0L940.7,686.1L944.7,683.2L948.8,680.3L952.9,677.5L957.0,674.6L961.0,671.8L965.1,669.0L969.2,666.2L973.2,663.5L977.3,660.7L981.4,658.0L985.4,655.3L989.5,652.6L993.6,650.0L997.6,647.3L1001.7,644.7L1005.8,642.1L1009.8,639.5L1013.9,636.9L1018.0,634.4L1022.1,631.9L1026.1,629.4L1030.2,626.9L1034.3,624.4L1038.3,622.0L1042.4,619.5L1046.5,617.1L1050.5,614.8L1054.6,612.4L1058.7,610.1L1062.7,607.8L1066.8,605.5L1070.9,603.2L1074.9,601.0L1079.0,598.8L1083.1,596.6L1087.2,594.4L1091.2,592.3L1095.3,590.2L1099.4,588.1L1103.4,586.1L1107.5,584.0L1111.6,582.0L1115.6,580.0L1119.7,578.1L1123.8,576.1L1127.8,574.2L1131.9,572.3L1136.0,570.4L1140.0,568.5L1144.1,566.7L1148.2,564.8L1152.3,563.0L1156.3,561.2L1160.4,559.4L1164.5,557.6L1168.5,555.8L1172.6,554.0L1176.7,552.2L1180.7,550.5L1184.8,548.7L1188.9,547.0L1192.9,545.3L1197.0,543.6L1201.1,541.9L1205.1,540.2L1209.2,538.5L1213.3,536.9L1217.4,535.2L1221.4,533.6L1225.5,532.0L1229.6,530.5L1233.6,528.9L1237.7,527.4L1241.8,525.9L1245.8,524.4L1249.9,523.0L1254.0,521.5L1258.0,520.1L1262.1,518.8L1266.2,517.4L1270.2,516.1L1274.3,514.8L1278.4,513.5L1282.5,512.2L1286.5,511.0L1290.6,509.7L1294.7,508.5L1298.7,507.3L1302.8,506.1L1306.9,504.9L1310.9,503.8L1315.0,502.6L1319.1,501.5L1323.1,500.4L1327.2,499.2L1331.3,498.1L1335.3,497.1L1339.4,496.0L1343.5,494.9L1347.6,493.8L1351.6,492.8L1355.7,491.7L1359.8,490.7L1363.8,489.7L1367.9,488.7L1372.0,487.7L1376.0,486.7L1380.1,485.7L1384.2,484.7L1388.2,483.8L1392.3,482.8L1396.4,481.9L1400.4,480.9L1404.5,480.0L1408.6,479.1L1412.7,478.2L1416.7,477.3L1420.8,476.4L1424.9,475.6L1428.9,474.7L1433.0,473.8L1437.1,473.0L1441.1,472.2L1445.2,471.3L1449.3,470.5L1453.3,469.7L1457.4,468.9L1461.5,468.1L1465.5,467.3L1469.6,466.5L1473.7,465.8L1477.8,465.0L1481.8,464.2L1485.9,463.5L1490.0,462.7L1494.0,462.0L1498.1,461.3L1502.2,460.6L1506.2,459.8L1510.3,459.1L1514.4,458.4L1518.4,457.7L1522.5,457.0L1526.6,456.3L1530.6,455.6L1534.7,454.9L1538.8,454.3L1542.9,453.6L1546.9,452.9L1551.0,452.3L1555.1,451.6L1559.1,451.0L1563.2,450.3L1567.3,449.7L1571.3,449.1L1575.4,448.4L1579.5,447.8L1583.5,447.2L1587.6,446.6L1591.7,446.0L1595.7,445.4L1599.8,444.8L1603.9,444.2L1608.0,443.6L1612.0,443.1L1616.1,442.5L1620.2,441.9L1624.2,441.3L1628.3,440.8L1632.4,440.2L1636.4,439.7L1640.5,439.2L1644.6,438.6L1648.6,438.1L1652.7,437.6L1656.8,437.0L1660.8,436.5L1664.9,436.0L1669.0,435.5L1673.1,435.0L1677.1,434.5L1681.2,434.0L1685.3,433.5L1689.3,433.0L1693.4,432.5L1697.5,432.0L1701.5,431.6L1705.6,431.1L1709.7,430.6L1713.7,430.2L1717.8,429.7L1721.9,429.2L1725.9,428.8L1730.0,428.3L1734.1,427.9L1738.2,427.5L1742.2,427.0L1746.3,426.6L1750.4,426.2L1754.4,425.7L1758.5,425.3L1762.6,424.9L1766.6,424.5L1770.7,424.1L1774.8,423.7L1778.8,423.3L1782.9,422.9L1787.0,422.5L1791.0,422.1L1795.1,421.7L1799.2,421.4L1803.3,421.0L1807.3,420.6L1811.4,420.3L1815.5,419.9L1819.5,419.6L1823.6,419.2L1827.7,418.9L1831.7,418.5L1835.8,418.2L1839.9,417.9L1843.9,417.5L1848.0,417.2L1852.1,416.9L1856.1,416.6L1860.2,416.3L1864.3,416.0L1868.4,415.7L1872.4,415.4L1876.5,415.1L1880.6,414.8L1884.6,414.5L1888.7,414.2L1892.8,413.9L1896.8,413.6L1900.9,413.4L1905.0,413.1L1909.0,412.8L1913.1,412.6L1917.2,412.3L1921.2,412.1L1925.3,411.8L1929.4,411.5L1933.5,411.3L1937.5,411.1L1941.6,410.8L1945.7,410.6L1949.7,410.3L1953.8,410.1L1957.9,409.9L1961.9,409.6L1966.0,409.4L1970.1,409.2L1974.1,408.9L1978.2,408.7L1982.3,408.5L1986.3,408.3L1990.4,408.1L1994.5,407.9L1998.6,407.7L2002.6,407.4L2006.7,407.2L2010.8,407.0L2014.8,406.8L2018.9,406.6L2023.0,406.5L2027.0,406.3L2031.1,406.1L2035.2,405.9L2039.2,405.7L2043.3,405.5L2047.4,405.3L2051.4,405.2L2055.5,405.0L2059.6,404.8L2063.7,404.7L2067.7,404.5L2071.8,404.3L2075.9,404.2L2079.9,404.0L2084.0,403.9L2088.1,403.7L2092.1,403.5L2096.2,403.4L2100.3,403.3L2104.3,403.1L2108.4,403.0L2112.5,402.8L2116.5,402.7L2120.6,402.6L2124.7,402.4L2128.8,402.3L2132.8,402.2L2136.9,402.1L2141.0,401.9L2145.0,401.8L2149.1,401.7L2153.2,401.6L2157.2,401.5L2161.3,401.3L2165.4,401.2L2169.4,401.1L2173.5,401.0L2177.6,400.9L2181.6,400.8L2185.7,400.7L2189.8,400.6L2193.9,400.5L2197.9,400.4L2202.0,400.3L2206.1,400.2L2210.1,400.2L2214.2,400.1L2218.3,400.0L2222.3,399.9L2226.4,399.8L2230.5,399.7L2234.5,399.6L2238.6,399.6L2242.7,399.5L2246.7,399.4L2250.8,399.3L2254.9,399.3L2259.0,399.2L2263.0,399.1L2267.1,399.0L2271.2,399.0L2275.2,398.9L2279.3,398.8L2283.4,398.8L2287.4,398.7L2291.5,398.6L2295.6,398.6L2299.6,398.5L2303.7,398.4L2307.8,398.4L2311.8,398.3L2315.9,398.2L2320.0,398.2L2324.1,398.1L2328.1,398.1L2332.2,398.0L2336.3,397.9L2340.3,397.9L2344.4,397.8L2348.5,397.8L2352.5,397.7L2356.6,397.6" stroke="#00f" stroke-width="10" stroke-dasharray="32 24.5 4 24.5"/>
<path d="M357.0,1682.5L358.2,1682.5L359.5,1682.5L360.7,1682.5L362.0,1682.5L363.2,1682.5L364.5,1682.5L365.7,1682.5L367.0,1682.4L368.2,1682.2L369.5,1681.9L370.7,1681.7L372.0,1681.4L373.2,1681.0L374.5,1680.6L375.7,1680.1L377.0,1679.6L378.2,1679.0L379.5,1678.3L380.7,1677.5L382.0,1676.6L383.2,1675.7L384.5,1674.7L385.7,1673.5L387.0,1672.3L388.2,1671.0L389.5,1669.6L390.7,1668.1L392.0,1666.5L393.2,1664.8L394.5,1663.1L395.7,1661.2L397.0,1659.2L398.2,1657.2L399.5,1655.0L400.7,1652.8L402.0,1650.4L403.2,1648.0L404.5,1645.5L405.7,1642.9L407.0,1640.2L408.2,1637.4L409.5,1634.5L410.7,1631.6L412.0,1628.5L413.2,1625.4L414.5,1622.2L415.7,1618.9L417.0,1615.5L418.2,1612.0L419.5,1608.4L420.7,1604.7L422.0,1600.9L423.2,1597.0L424.5,1592.9L425.7,1588.7L427.0,1584.5L428.2,1580.0L429.5,1575.5L430.7,1570.8L432.0,1565.9L433.2,1561.0L434.5,1555.9L435.7,1550.7L437.0,1545.4L438.2,1540.0L439.5,1534.5L440.7,1528.9L442.0,1523.2L443.2,1517.4L444.5,1511.6L445.7,1505.6L447.0,1499.5L448.2,1493.4L449.5,1487.2L450.7,1480.8L452.0,1474.4L453.2,1467.9L454.5,1461.3L455.7,1454.6L457.0,1447.9L458.2,1441.0L459.5,1434.1L460.7,1427.1L462.0,1420.1L463.2,1413.0L464.5,1405.8L465.7,1398.6L467.0,1391.4L468.2,1384.1L469.5,1376.7L470.7,1369.4L472.0,1362.0L473.2,1354.6L474.5,1347.2L475.7,1339.8L477.0,1332.5L478.2,1325.1L479.5,1317.8L480.7,1310.5L482.0,1303.2L483.2,1296.0L484.5,1288.8L485.7,1281.7L487.0,1274.6L488.2,1267.6L489.5,1260.7L490.7,1253.8L492.0,1247.1L493.2,1240.3L494.5,1233.7L495.7,1227.2L497.0,1220.7L498.2,1214.4L499.5,1208.1L500.7,1202.0L502.0,1195.9L503.2,1190.0L504.5,1184.1L505.7,1178.4L507.0,1172.7L508.2,1167.2L509.5,1161.8L510.7,1156.4L512.0,1151.2L513.2,1146.0L514.5,1141.0L515.7,1136.0L517.0,1131.1L518.2,1126.3L519.5,1121.6L520.7,1116.9L522.0,1112.4L523.2,1107.9L524.5,1103.4L525.7,1099.1L527.0,1094.8L528.2,1090.5L529.5,1086.4L530.7,1082.3L532.0,1078.2L533.2,1074.3L534.5,1070.3L535.7,1066.5L537.0,1062.7L538.2,1058.9L539.5,1055.2L540.7,1051.6L542.0,1048.0L543.2,1044.4L544.5,1040.9L545.7,1037.5L547.0,1034.0L548.2,1030.7L549.5,1027.4L550.7,1024.1L552.0,1020.8L553.2,1017.7L554.5,1014.5L555.7,1011.4L557.0,1008.3L558.2,1005.3L559.5,1002.3L560.7,999.3L562.0,996.4L563.2,993.5L564.5,990.7L565.7,987.8L567.0,985.0L568.2,982.3L569.5,979.6L570.7,976.9L572.0,974.2L573.2,971.6L574.5,968.9L575.7,966.4L577.0,963.8L578.2,961.3L579.5,958.8L580.7,956.3L582.0,953.9L583.2,951.4L584.5,949.0L585.7,946.7L587.0,944.3L588.2,942.0L589.5,939.7L590.7,937.4L592.0,935.1L593.2,932.9L594.5,930.6L595.7,928.4L597.0,926.2L598.2,924.1L599.5,921.9L600.7,919.8L602.0,917.7L603.2,915.6L604.5,913.5L605.7,911.4L607.0,909.4L608.2,907.4L609.4,905.4L610.7,903.4L611.9,901.4L613.2,899.4L614.4,897.5L615.7,895.6L616.9,893.6L618.2,891.8L619.4,889.9L620.7,888.0L621.9,886.1L623.2,884.3L624.4,882.5L625.7,880.7L626.9,878.9L628.2,877.1L629.4,875.3L630.7,873.6L631.9,871.8L633.2,870.1L634.4,868.4L635.7,866.6L636.9,865.0L638.2,863.3L639.4,861.6L640.7,859.9L641.9,858.3L643.2,856.7L644.4,855.0L645.7,853.4L646.9,851.8L648.2,850.2L649.4,848.6L650.7,847.1L651.9,845.5L653.2,844.0L654.4,842.4L655.7,840.9L656.9,839.4L658.2,837.9L659.4,836.4L660.7,834.9L661.9,833.4L663.2,831.9L664.4,830.5L665.7,829.0L666.9,827.6L668.2,826.1L669.4,824.7L670.7,823.3L671.9,821.9L673.2,820.5L674.4,819.1L675.7,817.7L676.9,816.3L678.2,815.0L679.4,813.6L680.7,812.3L681.9,810.9L683.2,809.6L684.4,808.2L685.7,806.9L686.9,805.6L688.2,804.3L689.4,803.0L690.7,801.7L691.9,800.4L693.2,799.1L694.4,797.8L695.7,796.6L696.9,795.3L698.2,794.1L699.4,792.8L700.7,791.6L701.9,790.3L703.2,789.1L704.4,787.9L705.7,786.6L706.9,785.4L708.2,784.2L709.4,783.0L710.7,781.8L711.9,780.6L713.2,779.4L714.4,778.2L715.7,777.0L716.9,775.9L718.2,774.7L719.4,773.5L720.7,772.4L721.9,771.2L723.2,770.1L724.4,768.9L725.7,767.8L726.9,766.7L728.2,765.5L729.4,764.4L730.7,763.3L731.9,762.2L733.2,761.0L737.2,757.5L741.3,753.9L745.4,750.4L749.4,746.9L753.5,743.5L757.6,740.1L761.7,736.8L765.7,733.5L769.8,730.2L773.9,727.0L777.9,723.8L782.0,720.7L786.1,717.6L790.1,714.5L794.2,711.5L798.3,708.5L802.3,705.6L806.4,702.6L810.5,699.8L814.5,696.9L818.6,694.1L822.7,691.4L826.8,688.7L830.8,686.0L834.9,683.3L839.0,680.7L843.0,678.1L847.1,675.6L851.2,673.1L855.2,670.6L859.3,668.1L863.4,665.7L867.4,663.3L871.5,661.0L875.6,658.6L879.6,656.4L883.7,654.1L887.8,651.8L891.9,649.6L895.9,647.4L900.0,645.3L904.1,643.1L908.1,641.0L912.2,638.9L916.3,636.9L920.3,634.8L924.4,632.8L928.5,630.8L932.5,628.8L936.6,626.8L940.7,624.9L944.7,623.0L948.8,621.1L952.9,619.2L957.0,617.3L961.0,615.4L965.1,613.6L969.2,611.8L973.2,610.0L977.3,608.2L981.4,606.4L985.4,604.7L989.5,603.0L993.6,601.3L997.6,599.6L1001.7,597.9L1005.8,596.2L1009.8,594.6L1013.9,592.9L1018.0,591.3L1022.1,589.7L1026.1,588.1L1030.2,586.6L1034.3,585.0L1038.3,583.5L1042.4,581.9L1046.5,580.4L1050.5,578.9L1054.6,577.4L1058.7,575.9L1062.7,574.5L1066.8,573.0L1070.9,571.6L1074.9,570.1L1079.0,568.7L1083.1,567.3L1087.2,565.9L1091.2,564.4L1095.3,563.1L1099.4,561.7L1103.4,560.3L1107.5,558.9L1111.6,557.6L1115.6,556.2L1119.7,554.9L1123.8,553.6L1127.8,552.2L1131.9,550.9L1136.0,549.6L1140.0,548.3L1144.1,547.0L1148.2,545.7L1152.3,544.5L1156.3,543.2L1160.4,541.9L1164.5,540.6L1168.5,539.4L1172.6,538.1L1176.7,536.9L1180.7,535.6L1184.8,534.4L1188.9,533.1L1192.9,531.9L1197.0,530.7L1201.1,529.5L1205.1,528.3L1209.2,527.1L1213.3,525.8L1217.4,524.6L1221.4,523.5L1225.5,522.3L1229.6,521.1L1233.6,519.9L1237.7,518.7L1241.8,517.6L1245.8,516.4L1249.9,515.2L1254.0,514.1L1258.0,512.9L1262.1,511.8L1266.2,510.7L1270.2,509.5L1274.3,508.4L1278.4,507.3L1282.5,506.2L1286.5,505.0L1290.6,503.9L1294.7,502.8L1298.7,501.8L1302.8,500.7L1306.9,499.6L1310.9,498.5L1315.0,497.5L1319.1,496.5L1323.1,495.4L1327.2,494.4L1331.3,493.4L1335.3,492.4L1339.4,491.4L1343.5,490.5L1347.6,489.5L1351.6,488.6L1355.7,487.7L1359.8,486.7L1363.8,485.8L1367.9,484.9L1372.0,484.1L1376.0,483.2L1380.1,482.3L1384.2,481.5L1388.2,480.6L1392.3,479.8L1396.4,479.0L1400.4,478.2L1404.5,477.4L1408.6,476.6L1412.7,475.8L1416.7,475.0L1420.8,474.2L1424.9,473.5L1428.9,472.7L1433.0,472.0L1437.1,471.2L1441.1,470.5L1445.2,469.8L1449.3,469.1L1453.3,468.4L1457.4,467.7L1461.5,467.0L1465.5,466.3L1469.6,465.6L1473.7,464.9L1477.8,464.2L1481.8,463.6L1485.9,462.9L1490.0,462.2L1494.0,461.6L1498.1,460.9L1502.2,460.3L1506.2,459.6L1510.3,458.9L1514.4,458.3L1518.4,457.7L1522.5,457.0L1526.6,456.4L1530.6,455.7L1534.7,455.1L1538.8,454.5L1542.9,453.8L1546.9,453.2L1551.0,452.6L1555.1,452.0L1559.1,451.4L1563.2,450.7L1567.3,450.1L1571.3,449.5L1575.4,448.9L1579.5,448.3L1583.5,447.7L1587.6,447.1L1591.7,446.5L1595.7,446.0L1599.8,445.4L1603.9,444.8L1608.0,444.2L1612.0,443.6L1616.1,443.1L1620.2,442.5L1624.2,441.9L1628.3,441.4L1632.4,440.8L1636.4,440.3L1640.5,439.7L1644.6,439.2L1648.6,438.6L1652.7,438.1L1656.8,437.6L1660.8,437.0L1664.9,436.5L1669.0,436.0L1673.1,435.5L1677.1,435.0L1681.2,434.5L1685.3,434.0L1689.3,433.5L1693.4,433.0L1697.5,432.5L1701.5,432.0L1705.6,431.6L1709.7,431.1L1713.7,430.6L1717.8,430.2L1721.9,429.7L1725.9,429.3L1730.0,428.9L1734.1,428.4L1738.2,428.0L1742.2,427.6L1746.3,427.2L1750.4,426.7L1754.4,426.3L1758.5,425.9L1762.6,425.5L1766.6,425.2L1770.7,424.8L1774.8,424.4L1778.8,424.0L1782.9,423.6L1787.0,423.3L1791.0,422.9L1795.1,422.6L1799.2,422.2L1803.3,421.9L1807.3,421.5L1811.4,421.2L1815.5,420.9L1819.5,420.6L1823.6,420.2L1827.7,419.9L1831.7,419.6L1835.8,419.3L1839.9,419.0L1843.9,418.7L1848.0,418.4L1852.1,418.2L1856.1,417.9L1860.2,417.6L1864.3,417.3L1868.4,417.1L1872.4,416.8L1876.5,416.5L1880.6,416.3L1884.6,416.0L1888.7,415.8L1892.8,415.5L1896.8,415.3L1900.9,415.0L1905.0,414.8L1909.0,414.5L1913.1,414.3L1917.2,414.1L1921.2,413.8L1925.3,413.6L1929.4,413.4L1933.5,413.2L1937.5,412.9L1941.6,412.7L1945.7,412.5L1949.7,412.3L1953.8,412.1L1957.9,411.8L1961.9,411.6L1966.0,411.4L1970.1,411.2L1974.1,411.0L1978.2,410.8L1982.3,410.6L1986.3,410.3L1990.4,410.1L1994.5,409.9L1998.6,409.7L2002.6,409.5L2006.7,409.3L2010.8,409.1L2014.8,408.9L2018.9,408.7L2023.0,408.4L2027.0,408.2L2031.1,408.0L2035.2,407.8L2039.2,407.6L2043.3,407.4L2047.4,407.3L2051.4,407.1L2055.5,406.9L2059.6,406.7L2063.7,406.5L2067.7,406.3L2071.8,406.1L2075.9,406.0L2079.9,405.8L2084.0,405.6L2088.1,405.5L2092.1,405.3L2096.2,405.2L2100.3,405.0L2104.3,404.9L2108.4,404.7L2112.5,404.6L2116.5,404.4L2120.6,404.3L2124.7,404.2L2128.8,404.1L2132.8,403.9L2136.9,403.8L2141.0,403.7L2145.0,403.6L2149.1,403.5L2153.2,403.4L2157.2,403.3L2161.3,403.2L2165.4,403.1L2169.4,403.0L2173.5,402.9L2177.6,402.8L2181.6,402.8L2185.7,402.7L2189.8,402.6L2193.9,402.5L2197.9,402.4L2202.0,402.4L2206.1,402.3L2210.1,402.2L2214.2,402.2L2218.3,402.1L2222.3,402.1L2226.4,402.0L2230.5,401.9L2234.5,401.9L2238.6,401.8L2242.7,401.8L2246.7,401.7L2250.8,401.7L2254.9,401.7L2259.0,401.6L2263.0,401.6L2267.1,401.5L2271.2,401.5L2275.2,401.4L2279.3,401.4L2283.4,401.4L2287.4,401.3L2291.5,401.3L2295.6,401.3L2299.6,401.2L2303.7,401.2L2307.8,401.2L2311.8,401.1L2315.9,401.1L2320.0,401.1L2324.1,401.1L2328.1,401.0L2332.2,401.0L2336.3,401.0L2340.3,400.9L2344.4,400.9L2348.5,400.9L2352.5,400.9L2356.6,400.8" stroke="#800080" stroke-width="10.5" stroke-dasharray="0.01 18.49"/>
<path d="M357.0,1682.5L358.2,1682.1L359.5,1681.6L360.7,1680.8L362.0,1680.0L363.2,1679.0L364.5,1678.0L365.7,1676.9L367.0,1675.8L368.2,1674.7L369.5,1673.6L370.7,1672.5L372.0,1671.4L373.2,1670.3L374.5,1669.1L375.7,1668.0L377.0,1666.8L378.2,1665.6L379.5,1664.4L380.7,1663.1L382.0,1661.8L383.2,1660.4L384.5,1658.9L385.7,1657.3L387.0,1655.6L388.2,1653.8L389.5,1651.9L390.7,1649.9L392.0,1647.8L393.2,1645.6L394.5,1643.3L395.7,1640.8L397.0,1638.2L398.2,1635.5L399.5,1632.7L400.7,1629.7L402.0,1626.7L403.2,1623.5L404.5,1620.1L405.7,1616.7L407.0,1613.1L408.2,1609.4L409.5,1605.6L410.7,1601.7L412.0,1597.6L413.2,1593.4L414.5,1589.1L415.7,1584.7L417.0,1580.1L418.2,1575.5L419.5,1570.7L420.7,1565.7L422.0,1560.7L423.2,1555.5L424.5,1550.3L425.7,1544.9L427.0,1539.5L428.2,1533.9L429.5,1528.3L430.7,1522.6L432.0,1516.9L433.2,1511.1L434.5,1505.2L435.7,1499.3L437.0,1493.4L438.2,1487.4L439.5,1481.3L440.7,1475.3L442.0,1469.2L443.2,1463.1L444.5,1457.0L445.7,1450.9L447.0,1444.8L448.2,1438.7L449.5,1432.5L450.7,1426.4L452.0,1420.3L453.2,1414.2L454.5,1408.1L455.7,1402.0L457.0,1396.0L458.2,1390.0L459.5,1384.0L460.7,1378.1L462.0,1372.3L463.2,1366.5L464.5,1360.7L465.7,1355.1L467.0,1349.5L468.2,1344.0L469.5,1338.6L470.7,1333.2L472.0,1327.9L473.2,1322.7L474.5,1317.6L475.7,1312.5L477.0,1307.5L478.2,1302.6L479.5,1297.8L480.7,1293.1L482.0,1288.4L483.2,1283.8L484.5,1279.3L485.7,1274.9L487.0,1270.6L488.2,1266.3L489.5,1262.1L490.7,1258.0L492.0,1254.0L493.2,1250.1L494.5,1246.2L495.7,1242.4L497.0,1238.7L498.2,1235.0L499.5,1231.4L500.7,1227.9L502.0,1224.4L503.2,1221.0L504.5,1217.6L505.7,1214.3L507.0,1211.1L508.2,1207.8L509.5,1204.7L510.7,1201.5L512.0,1198.4L513.2,1195.4L514.5,1192.4L515.7,1189.4L517.0,1186.4L518.2,1183.5L519.5,1180.6L520.7,1177.7L522.0,1174.9L523.2,1172.1L524.5,1169.3L525.7,1166.5L527.0,1163.8L528.2,1161.0L529.5,1158.3L530.7,1155.6L532.0,1152.9L533.2,1150.2L534.5,1147.6L535.7,1144.9L537.0,1142.3L538.2,1139.7L539.5,1137.0L540.7,1134.4L542.0,1131.9L543.2,1129.3L544.5,1126.7L545.7,1124.2L547.0,1121.6L548.2,1119.1L549.5,1116.6L550.7,1114.0L552.0,1111.5L553.2,1109.1L554.5,1106.6L555.7,1104.1L557.0,1101.6L558.2,1099.2L559.5,1096.8L560.7,1094.3L562.0,1091.9L563.2,1089.5L564.5,1087.1L565.7,1084.7L567.0,1082.3L568.2,1079.9L569.5,1077.6L570.7,1075.2L572.0,1072.9L573.2,1070.5L574.5,1068.2L575.7,1065.9L577.0,1063.6L578.2,1061.3L579.5,1059.0L580.7,1056.7L582.0,1054.4L583.2,1052.1L584.5,1049.8L585.7,1047.6L587.0,1045.3L588.2,1043.1L589.5,1040.8L590.7,1038.6L592.0,1036.4L593.2,1034.1L594.5,1031.9L595.7,1029.7L597.0,1027.5L598.2,1025.3L599.5,1023.1L600.7,1020.9L602.0,1018.7L603.2,1016.6L604.5,1014.4L605.7,1012.2L607.0,1010.1L608.2,1007.9L609.4,1005.8L610.7,1003.6L611.9,1001.5L613.2,999.3L614.4,997.2L615.7,995.1L616.9,992.9L618.2,990.8L619.4,988.7L620.7,986.6L621.9,984.5L623.2,982.4L624.4,980.3L625.7,978.2L626.9,976.1L628.2,974.0L629.4,971.9L630.7,969.8L631.9,967.7L633.2,965.7L634.4,963.6L635.7,961.5L636.9,959.5L638.2,957.4L639.4,955.4L640.7,953.3L641.9,951.3L643.2,949.3L644.4,947.2L645.7,945.2L646.9,943.2L648.2,941.2L649.4,939.2L650.7,937.1L651.9,935.1L653.2,933.2L654.4,931.2L655.7,929.2L656.9,927.2L658.2,925.2L659.4,923.3L660.7,921.3L661.9,919.4L663.2,917.4L664.4,915.5L665.7,913.5L666.9,911.6L668.2,909.7L669.4,907.8L670.7,905.9L671.9,904.0L673.2,902.1L674.4,900.2L675.7,898.3L676.9,896.4L678.2,894.6L679.4,892.7L680.7,890.8L681.9,889.0L683.2,887.2L684.4,885.3L685.7,883.5L686.9,881.7L688.2,879.9L689.4,878.0L690.7,876.2L691.9,874.4L693.2,872.6L694.4,870.9L695.7,869.1L696.9,867.3L698.2,865.5L699.4,863.8L700.7,862.0L701.9,860.3L703.2,858.5L704.4,856.8L705.7,855.1L706.9,853.4L708.2,851.6L709.4,849.9L710.7,848.2L711.9,846.5L713.2,844.8L714.4,843.1L715.7,841.4L716.9,839.8L718.2,838.1L719.4,836.4L720.7,834.8L721.9,833.1L723.2,831.5L724.4,829.8L725.7,828.2L726.9,826.5L728.2,824.9L729.4,823.3L730.7,821.7L731.9,820.1L733.2,818.5L737.2,813.3L741.3,808.1L745.4,803.0L749.4,798.0L753.5,793.0L757.6,788.1L761.7,783.2L765.7,778.4L769.8,773.6L773.9,768.9L777.9,764.2L782.0,759.6L786.1,755.0L790.1,750.4L794.2,745.9L798.3,741.5L802.3,737.0L806.4,732.7L810.5,728.3L814.5,724.0L818.6,719.8L822.7,715.6L826.8,711.4L830.8,707.3L834.9,703.2L839.0,699.1L843.0,695.1L847.1,691.1L851.2,687.1L855.2,683.2L859.3,679.3L863.4,675.5L867.4,671.7L871.5,667.9L875.6,664.2L879.6,660.5L883.7,656.8L887.8,653.1L891.9,649.5L895.9,646.0L900.0,642.4L904.1,638.9L908.1,635.4L912.2,632.0L916.3,628.5L920.3,625.1L924.4,621.8L928.5,618.5L932.5,615.2L936.6,611.9L940.7,608.6L944.7,605.4L948.8,602.2L952.9,599.1L957.0,596.0L961.0,592.9L965.1,589.8L969.2,586.7L973.2,583.7L977.3,580.7L981.4,577.8L985.4,574.8L989.5,571.9L993.6,569.0L997.6,566.1L1001.7,563.3L1005.8,560.4L1009.8,557.6L1013.9,554.8L1018.0,552.1L1022.1,549.3L1026.1,546.6L1030.2,543.9L1034.3,541.2L1038.3,538.6L1042.4,535.9L1046.5,533.3L1050.5,530.7L1054.6,528.1L1058.7,525.5L1062.7,523.0L1066.8,520.4L1070.9,517.9L1074.9,515.4L1079.0,513.0L1083.1,510.5L1087.2,508.1L1091.2,505.6L1095.3,503.2L1099.4,500.8L1103.4,498.5L1107.5,496.1L1111.6,493.8L1115.6,491.5L1119.7,489.2L1123.8,486.9L1127.8,484.6L1131.9,482.3L1136.0,480.1L1140.0,477.8L1144.1,475.6L1148.2,473.4L1152.3,471.2L1156.3,469.0L1160.4,466.9L1164.5,464.7L1168.5,462.5L1172.6,460.4L1176.7,458.3L1180.7,456.2L1184.8,454.1L1188.9,452.0L1192.9,450.0L1197.0,447.9L1201.1,445.9L1205.1,443.9L1209.2,441.9L1213.3,439.9L1217.4,437.9L1221.4,436.0L1225.5,434.1L1229.6,432.1L1233.6,430.2L1237.7,428.4L1241.8,426.5L1245.8,424.7L1249.9,422.9L1254.0,421.1L1258.0,419.3L1262.1,417.5L1266.2,415.8L1270.2,414.0L1274.3,412.3L1278.4,410.6L1282.5,409.0L1286.5,407.3L1290.6,405.6L1294.7,404.0L1298.7,402.4L1302.8,400.8L1306.9,399.2L1310.9,397.6L1315.0,396.1L1319.1,394.6L1323.1,393.0L1327.2,391.5L1331.3,390.0L1335.3,388.5L1339.4,387.1L1343.5,385.6L1347.6,384.2L1351.6,382.7L1355.7,381.3L1359.8,379.9L1363.8,378.5L1367.9,377.1L1372.0,375.7L1376.0,374.4L1380.1,373.0L1384.2,371.7L1388.2,370.4L1392.3,369.0L1396.4,367.7L1400.4,366.4L1404.5,365.2L1408.6,363.9L1412.7,362.6L1416.7,361.4L1420.8,360.1L1424.9,358.9L1428.9,357.7L1433.0,356.5L1437.1,355.3L1441.1,354.1L1445.2,352.9L1449.3,351.7L1453.3,350.6L1457.4,349.4L1461.5,348.3L1465.5,347.1L1469.6,346.0L1473.7,344.9L1477.8,343.8L1481.8,342.7L1485.9,341.7L1490.0,340.6L1494.0,339.6L1498.1,338.5L1502.2,337.5L1506.2,336.5L1510.3,335.4L1514.4,334.4L1518.4,333.4L1522.5,332.5L1526.6,331.5L1530.6,330.5L1534.7,329.6L1538.8,328.6L1542.9,327.7L1546.9,326.8L1551.0,325.8L1555.1,324.9L1559.1,324.0L1563.2,323.1L1567.3,322.3L1571.3,321.4L1575.4,320.5L1579.5,319.7L1583.5,318.8L1587.6,318.0L1591.7,317.2L1595.7,316.3L1599.8,315.5L1603.9,314.7L1608.0,313.9L1612.0,313.2L1616.1,312.4L1620.2,311.6L1624.2,310.9L1628.3,310.1L1632.4,309.4L1636.4,308.6L1640.5,307.9L1644.6,307.2L1648.6,306.5L1652.7,305.8L1656.8,305.1L1660.8,304.4L1664.9,303.7L1669.0,303.0L1673.1,302.3L1677.1,301.7L1681.2,301.0L1685.3,300.3L1689.3,299.7L1693.4,299.0L1697.5,298.4L1701.5,297.7L1705.6,297.1L1709.7,296.5L1713.7,295.8L1717.8,295.2L1721.9,294.6L1725.9,294.0L1730.0,293.3L1734.1,292.7L1738.2,292.1L1742.2,291.5L1746.3,290.9L1750.4,290.3L1754.4,289.7L1758.5,289.2L1762.6,288.6L1766.6,288.0L1770.7,287.4L1774.8,286.9L1778.8,286.3L1782.9,285.8L1787.0,285.2L1791.0,284.7L1795.1,284.2L1799.2,283.7L1803.3,283.1L1807.3,282.6L1811.4,282.1L1815.5,281.6L1819.5,281.1L1823.6,280.6L1827.7,280.1L1831.7,279.7L1835.8,279.2L1839.9,278.7L1843.9,278.2L1848.0,277.8L1852.1,277.3L1856.1,276.9L1860.2,276.4L1864.3,276.0L1868.4,275.6L1872.4,275.1L1876.5,274.7L1880.6,274.3L1884.6,273.9L1888.7,273.5L1892.8,273.1L1896.8,272.7L1900.9,272.3L1905.0,271.9L1909.0,271.6L1913.1,271.2L1917.2,270.8L1921.2,270.5L1925.3,270.1L1929.4,269.8L1933.5,269.4L1937.5,269.1L1941.6,268.8L1945.7,268.4L1949.7,268.1L1953.8,267.8L1957.9,267.5L1961.9,267.2L1966.0,266.9L1970.1,266.6L1974.1,266.3L1978.2,266.0L1982.3,265.8L1986.3,265.5L1990.4,265.2L1994.5,264.9L1998.6,264.7L2002.6,264.4L2006.7,264.1L2010.8,263.9L2014.8,263.6L2018.9,263.4L2023.0,263.1L2027.0,262.9L2031.1,262.7L2035.2,262.4L2039.2,262.2L2043.3,261.9L2047.4,261.7L2051.4,261.5L2055.5,261.3L2059.6,261.0L2063.7,260.8L2067.7,260.6L2071.8,260.4L2075.9,260.2L2079.9,260.0L2084.0,259.8L2088.1,259.6L2092.1,259.3L2096.2,259.1L2100.3,258.9L2104.3,258.7L2108.4,258.6L2112.5,258.4L2116.5,258.2L2120.6,258.0L2124.7,257.8L2128.8,257.6L2132.8,257.4L2136.9,257.2L2141.0,257.1L2145.0,256.9L2149.1,256.7L2153.2,256.5L2157.2,256.4L2161.3,256.2L2165.4,256.1L2169.4,255.9L2173.5,255.7L2177.6,255.6L2181.6,255.4L2185.7,255.3L2189.8,255.1L2193.9,255.0L2197.9,254.8L2202.0,254.7L2206.1,254.5L2210.1,254.4L2214.2,254.3L2218.3,254.1L2222.3,254.0L2226.4,253.9L2230.5,253.8L2234.5,253.6L2238.6,253.5L2242.7,253.4L2246.7,253.3L2250.8,253.2L2254.9,253.0L2259.0,252.9L2263.0,252.8L2267.1,252.7L2271.2,252.6L2275.2,252.5L2279.3,252.4L2283.4,252.3L2287.4,252.2L2291.5,252.1L2295.6,252.0L2299.6,251.9L2303.7,251.8L2307.8,251.8L2311.8,251.7L2315.9,251.6L2320.0,251.5L2324.1,251.4L2328.1,251.3L2332.2,251.2L2336.3,251.2L2340.3,251.1L2344.4,251.0L2348.5,250.9L2352.5,250.8L2356.6,250.7" stroke="#008000" stroke-width="12" stroke-dasharray="33 52"/>
</g>
<rect x="357.0" y="71.4" width="1999.6" height="1611.1" fill="none" stroke="#000" stroke-width="7"/>
<path d="M323.0,1682.5H357.0M323.0,1414.0H357.0M323.0,1145.5H357.0M323.0,877.0H357.0M323.0,608.4H357.0M323.0,339.9H357.0M323.0,71.4H357.0M340.0,1548.2H357.0M340.0,1279.7H357.0M340.0,1011.2H357.0M340.0,742.7H357.0M340.0,474.2H357.0M340.0,205.7H357.0M357.0,1682.5V1716.5M607.0,1682.5V1716.5M856.9,1682.5V1716.5M1106.8,1682.5V1716.5M1356.8,1682.5V1716.5M1606.8,1682.5V1716.5M1856.7,1682.5V1716.5M2106.7,1682.5V1716.5M2356.6,1682.5V1716.5M482.0,1682.5V1700.5M731.9,1682.5V1700.5M981.9,1682.5V1700.5M1231.8,1682.5V1700.5M1481.8,1682.5V1700.5M1731.7,1682.5V1700.5M1981.7,1682.5V1700.5M2231.6,1682.5V1700.5" stroke="#000" stroke-width="6.8" fill="none"/>
<g font-family="Liberation Sans, Arial, sans-serif" font-weight="bold" font-size="69" fill="#000">
<text transform="translate(304.5,1703.0) scale(1,1.02)" text-anchor="end">0</text>
<text transform="translate(304.5,1434.5) scale(1,1.02)" text-anchor="end">50</text>
<text transform="translate(304.5,1166.0) scale(1,1.02)" text-anchor="end">100</text>
<text transform="translate(304.5,897.5) scale(1,1.02)" text-anchor="end">150</text>
<text transform="translate(304.5,628.9) scale(1,1.02)" text-anchor="end">200</text>
<text transform="translate(304.5,360.4) scale(1,1.02)" text-anchor="end">250</text>
<text transform="translate(304.5,91.9) scale(1,1.02)" text-anchor="end">300</text>
<text transform="translate(357.0,1789.5) scale(1,1.02)" text-anchor="middle">0</text>
<text transform="translate(607.0,1789.5) scale(1,1.02)" text-anchor="middle">20</text>
<text transform="translate(856.9,1789.5) scale(1,1.02)" text-anchor="middle">40</text>
<text transform="translate(1106.8,1789.5) scale(1,1.02)" text-anchor="middle">60</text>
<text transform="translate(1356.8,1789.5) scale(1,1.02)" text-anchor="middle">80</text>
<text transform="translate(1606.8,1789.5) scale(1,1.02)" text-anchor="middle">100</text>
<text transform="translate(1856.7,1789.5) scale(1,1.02)" text-anchor="middle">120</text>
<text transform="translate(2106.7,1789.5) scale(1,1.02)" text-anchor="middle">140</text>
<text transform="translate(2356.6,1789.5) scale(1,1.02)" text-anchor="middle">160</text>
</g>
<g font-family="Liberation Sans, Arial, sans-serif" font-size="92" fill="#000">
<text transform="translate(1356.5,1926.5) scale(1,1.02)" text-anchor="middle" font-size="91.6">Time (h)</text>
<text transform="translate(94,805.5) rotate(-90) scale(1,1.02)" text-anchor="middle" font-size="91.3">Cumulative heat (J/g cementitious)</text>
</g>
<g fill="none" stroke-linecap="round">
<path d="M1873.80,1105.5H2026.70" stroke="#000" stroke-width="10"/>
<path d="M1874.90,1189.4H2025.50" stroke="#f00" stroke-width="13" stroke-dasharray="55.8 37.8 8 37.8"/>
<path d="M1874.90,1273.7H2025.50" stroke="#f00" stroke-width="13" stroke-dasharray="40.7 38.2 6.3 37.8 6 80"/>
<path d="M1873.65,1357.2H2024.00" stroke="#00f" stroke-width="10.5" stroke-dasharray="44.1 29.8 5 30.2 60"/>
<path d="M1874.10,1442.7H2010.00" stroke="#800080" stroke-width="12.2" stroke-dasharray="0.01 22.28"/>
<path d="M1874.10,1526.0H2026.30" stroke="#008000" stroke-width="11.4" stroke-dasharray="47 63.8"/>
</g>
<g font-family="Liberation Sans, Arial, sans-serif" font-size="69" fill="#000">
<text transform="translate(2046,1127.6) scale(1,1.02)">Plain</text>
<text transform="translate(2046,1212.0) scale(1,1.02)">SL 20</text>
<text transform="translate(2046,1295.5) scale(1,1.02)">SL 40</text>
<text transform="translate(2046,1380.3) scale(1,1.02)">FA 20</text>
<text transform="translate(2046,1464.8) scale(1,1.02)">SF 20</text>
<text transform="translate(2046,1550.0) scale(1,1.02)">MK 20</text>
<text transform="translate(830,256) scale(1,1.02)" font-size="69">SL 20</text>
<text transform="translate(1641,615.6) scale(1,1.02)" font-size="69">SL 40</text>
</g>
</svg></body></html>
